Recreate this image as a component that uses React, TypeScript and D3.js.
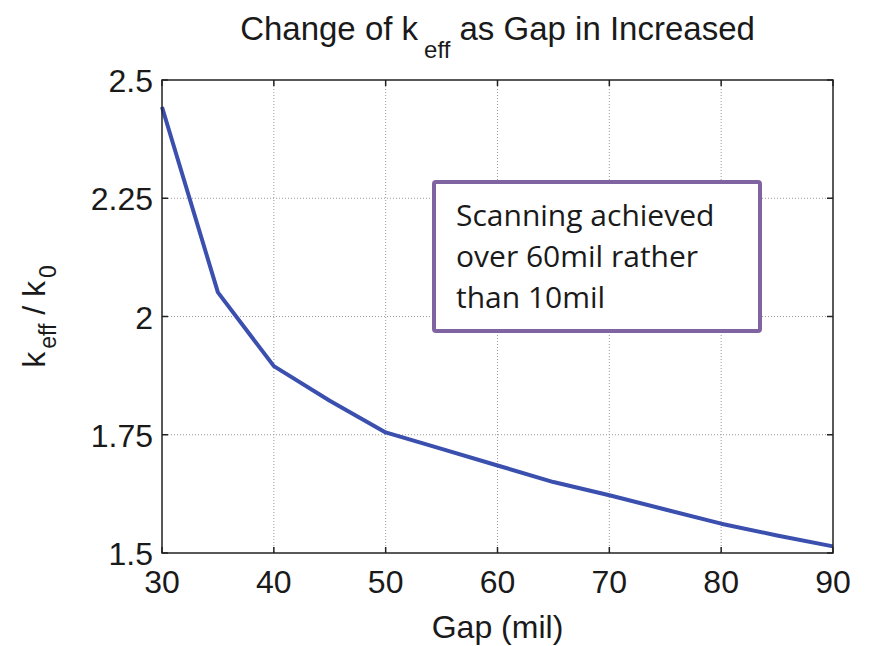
import React from 'react';
import * as d3 from 'd3';

const gapValues = [30, 35, 40, 45, 50, 55, 60, 65, 70, 75, 80, 85, 90];
const keffRatio = [2.443, 2.051, 1.895, 1.822, 1.755, 1.72, 1.685, 1.65, 1.622, 1.592, 1.562, 1.537, 1.514];
const xTicks = [30, 40, 50, 60, 70, 80, 90];
const yTicks = [1.5, 1.75, 2, 2.25, 2.5];
const noteLines = ['Scanning achieved', 'over 60mil rather', 'than 10mil'];

const W = 869;
const H = 646;
const M = { left: 162, right: 36, top: 80, bottom: 93 };
const FONT = '"Liberation Sans", Arial, sans-serif';

export default function App() {
  const x = d3.scaleLinear().domain([30, 90]).range([M.left, W - M.right]);
  const y = d3.scaleLinear().domain([1.5, 2.5]).range([H - M.bottom, M.top]);
  const pts = gapValues.map((g, i) => [g, keffRatio[i]] as [number, number]);
  const line = d3.line<[number, number]>().x(d => x(d[0])).y(d => y(d[1]));
  const [x0, x1] = x.range();
  const [y0, y1] = y.range();
  const tick = 6;

  return (
    <svg width={W} height={H} style={{ position: 'absolute', left: 0, top: 0, background: '#fff' }}>
      {/* grid */}
      {xTicks.slice(1, -1).map(t => (
        <line key={'gx' + t} x1={x(t)} x2={x(t)} y1={y1} y2={y0} stroke="#9a9a9a" strokeWidth={1} strokeDasharray="1,2" />
      ))}
      {yTicks.slice(1, -1).map(t => (
        <line key={'gy' + t} x1={x0} x2={x1} y1={y(t)} y2={y(t)} stroke="#9a9a9a" strokeWidth={1} strokeDasharray="1,2" />
      ))}

      {/* data */}
      <path d={line(pts) || ''} fill="none" stroke="#3a4fae" strokeWidth={4} strokeLinejoin="round" />

      {/* box + ticks */}
      <rect x={x0} y={y1} width={x1 - x0} height={y0 - y1} fill="none" stroke="#222" strokeWidth={1.5} />
      {xTicks.map(t => (
        <g key={'tx' + t}>
          <line x1={x(t)} x2={x(t)} y1={y0} y2={y0 - tick} stroke="#222" strokeWidth={1.5} />
          <line x1={x(t)} x2={x(t)} y1={y1} y2={y1 + tick} stroke="#222" strokeWidth={1.5} />
          <text x={x(t)} y={y0 + 40} textAnchor="middle" fontFamily={FONT} fontSize={32} fill="#1a1a1a">{t}</text>
        </g>
      ))}
      {yTicks.map(t => (
        <g key={'ty' + t}>
          <line x1={x0} x2={x0 + tick} y1={y(t)} y2={y(t)} stroke="#222" strokeWidth={1.5} />
          <line x1={x1} x2={x1 - tick} y1={y(t)} y2={y(t)} stroke="#222" strokeWidth={1.5} />
          <text x={x0 - 9} y={y(t) + 12} textAnchor="end" fontFamily={FONT} fontSize={32} fill="#1a1a1a">{String(t)}</text>
        </g>
      ))}

      {/* title */}
      <text x={(x0 + x1) / 2} y={40} textAnchor="middle" fontFamily={FONT} fontSize={33} fill="#1a1a1a">
        Change of k<tspan dx={6} dy={18} fontSize={24}>eff</tspan><tspan dy={-18}> as Gap in Increased</tspan>
      </text>

      {/* x label */}
      <text x={(x0 + x1) / 2} y={638} textAnchor="middle" fontFamily={FONT} fontSize={32} fill="#1a1a1a">Gap (mil)</text>

      {/* y label */}
      <text transform={`translate(45, ${(y0 + y1) / 2}) rotate(-90)`} textAnchor="middle" fontFamily={FONT} fontSize={32} fill="#1a1a1a">
        k<tspan dx={3} dy={11} fontSize={23}>eff</tspan><tspan dy={-11}> / k</tspan><tspan dx={3} dy={11} fontSize={23}>0</tspan>
      </text>

      {/* annotation */}
      <rect x={434} y={182} width={326} height={149} rx={2} fill="#fff" stroke="#8064a2" strokeWidth={4} />
      {noteLines.map((s, i) => (
        <text key={s} x={456} y={226 + i * 41} fontFamily='"Open Sans", "Noto Sans", sans-serif' fontSize={30} fill="#1a1a1a">{s}</text>
      ))}
    </svg>
  );
}
